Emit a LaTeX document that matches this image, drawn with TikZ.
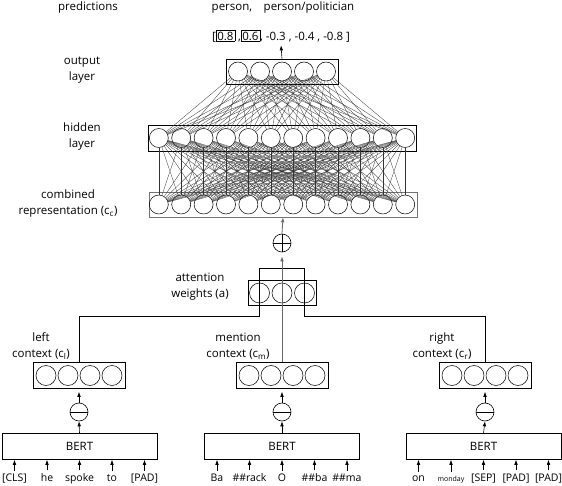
\documentclass[tikz,border=0pt]{standalone}
\usepackage{fontspec}
\setmainfont{Open Sans}
\usetikzlibrary{arrows.meta,calc,shapes}
\newcommand{\myunit}{9.5pt}
\tikzset{
    node style neu/.style={draw,circle,minimum size=2*\myunit,inner sep=0pt,line width=0.5pt},
    node style box/.style={draw,rectangle,inner sep=0pt,line width=0.6pt},
    node style op/.style={draw,circle,minimum size=18pt,inner sep=0pt,line width=0.6pt},
    node style lab/.style={align=center,font=\fontsize{11.5}{16}\selectfont},
    node style tok/.style={font=\fontsize{10.5}{12}\selectfont},
    arrow style up/.style={->,line width=0.6pt},
    arrow style net/.style={line width=0.3pt,black!80},
}
\setlength{\fboxsep}{1pt}
\setlength{\fboxrule}{0.5pt}

\begin{document}
\begin{tikzpicture}[>={Latex[length=5pt,width=3.6pt]},x=1pt,y=-1pt]
   \useasboundingbox (0,0) rectangle (562,486);
   % labels
   \node[node style lab] (predlab) at (88,8) {predictions};
   \node[node style lab] (classes) at (283,8) {person,\quad person/politician};
   \node[node style lab] (vals) at (281,36) {[\fbox{0.8} ,\fbox{0.6}, -0.3 , -0.4 , -0.8 ]};
   \node[node style lab] (outlab) at (82,70) {output\\layer};
   \node[node style lab] (hidlab) at (82,137) {hidden\\layer};
   \node[node style lab] (comblab) at (68,204) {combined\\representation (c\textsubscript{c})};
   \node[node style lab] (attlab) at (200,287) {attention\\weights (a)};
   \node[node style lab] (leftlab) at (41,346) {left\\context (c\textsubscript{l})};
   \node[node style lab] (mentlab) at (238,346) {mention\\context (c\textsubscript{m})};
   \node[node style lab] (rightlab) at (442,346) {right\\context (c\textsubscript{r})};

   % layers
   \node[node style box,minimum width=112pt,minimum height=25pt] (O) at (282,71.5) {};
   \node[node style box,minimum width=268pt,minimum height=26pt] (H) at (282,138) {};
   \node[node style box,draw=black!55,minimum width=268pt,minimum height=25pt] (C) at (283,204.5) {};
   \foreach \i in {1,...,5}
      \node[node style neu] (o-\i) at ({282+(\i-3)*22},71.5) {};
   \foreach \i in {1,...,12} {
      \node[node style neu] (h-\i) at ({282+(\i-6.5)*22.4},138) {};
      \node[node style neu] (c-\i) at ({282+(\i-6.5)*22.4},204.5) {};
   }
   \foreach \i in {1,...,5}
      \foreach \j in {1,...,12}
         \draw[arrow style net] (o-\i) -- (h-\j);
   \foreach \i in {1,...,12}
      \foreach \j in {1,...,12}
         \draw[arrow style net] (h-\i) -- (c-\j);
   \draw[arrow style up] (O.north) -- (vals.south);

   % combination
   \node[node style op] (plus) at (282,243) {};
   \draw[line width=0.6pt] (plus.west) -- (plus.east) (plus.north) -- (plus.south);
   \draw[arrow style up,black!60,line width=0.8pt] (plus.north) -- (C.south);

   \node[node style box,minimum width=68pt,minimum height=25pt] (A) at (282,293) {};
   \foreach \i in {1,2,3}
      \node[node style neu,minimum size=20pt] (a-\i) at ({282+(\i-2)*22.5},293) {};

   % contexts
   \foreach \k/\x in {1/79,2/282,3/485} {
      \node[node style box,minimum width=92pt,minimum height=26pt] (X\k) at (\x,375.5) {};
      \foreach \i in {1,...,4}
         \node[node style neu,minimum size=20pt] (x-\k-\i) at ({\x+(\i-2.5)*22},375.5) {};
      \node[node style op] (m-\k) at (\x,412) {};
      \draw[line width=0.6pt] (m-\k.west) -- (m-\k.east);
      \draw[arrow style up,shorten >=3pt] (m-\k.north) -- (X\k.south);
   }
   \node[node style box,minimum width=155pt,minimum height=26pt] (B1) at (79.5,446.5) {\fontsize{11.5}{12}\selectfont BERT};
   \node[node style box,minimum width=155pt,minimum height=26pt] (B2) at (282,446.5) {\fontsize{11.5}{12}\selectfont BERT};
   \node[node style box,minimum width=155pt,minimum height=26pt] (B3) at (483.5,446.5) {\fontsize{11.5}{12}\selectfont BERT};
   \foreach \k in {1,2,3}
      \draw[arrow style up] (B\k.north) -- (m-\k.south);

   % tokens
   \foreach \k/\words in {1/{[CLS],he,spoke,to,[PAD]},2/{Ba,\#\#rack,O,\#\#ba,\#\#ma}} {
      \foreach \w [count=\i] in \words {
         \node[node style tok,anchor=base] (t-\k-\i) at ($(B\k.south)+({(\i-3)*32.5},22)$) {\w};
         \draw[arrow style up] (t-\k-\i.north) -- (t-\k-\i.north |- B\k.south);
      }
   }
   \foreach \w [count=\i] in {on,{\fontsize{7}{8}\selectfont monday},[SEP],[PAD],[PAD]} {
      \node[node style tok,anchor=base] (t-3-\i) at ($(B3.south)+({(\i-3)*32.5},22)$) {\w};
      \draw[arrow style up] (t-3-\i.north) ++(0,-1) -- (t-3-\i.north |- B3.south);
   }

   % attention wiring
   \coordinate (lowbar) at (0,316);
   \coordinate (topbar) at (0,268);
   \draw[line width=0.6pt] (X1.north) |- (a-1 |- lowbar) -- (a-1 |- topbar) -- (a-3 |- topbar)
      -- (a-3 |- lowbar) -| (X3.north);
   \draw[arrow style up,black!60,line width=0.8pt,shorten >=4pt] (X2.north) -- (plus.south);
\end{tikzpicture}
\end{document}
